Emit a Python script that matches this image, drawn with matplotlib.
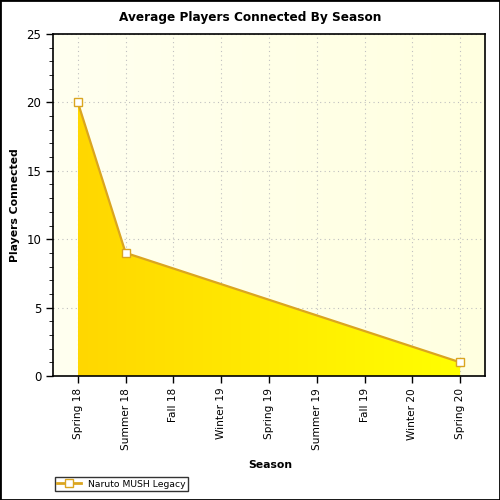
import numpy as np
import matplotlib
matplotlib.use("Agg")
import matplotlib.pyplot as plt
from matplotlib.colors import LinearSegmentedColormap
from matplotlib.patches import Rectangle
from matplotlib.lines import Line2D
from matplotlib.ticker import MultipleLocator

seasons = ["Spring 18", "Summer 18", "Fall 18", "Winter 19", "Spring 19",
           "Summer 19", "Fall 19", "Winter 20", "Spring 20"]
players = [20, 9, np.nan, np.nan, np.nan, np.nan, np.nan, np.nan, 1]
series_name = "Naruto MUSH Legacy"

fig = plt.figure(figsize=(5, 5), dpi=100)
fig.patch.set_facecolor("white")
fig.patches.append(Rectangle((0, 0), 1, 1, transform=fig.transFigure, fill=False,
                             edgecolor="black", linewidth=2))

ax = fig.add_axes([53/500, 1 - 376/500, (485-53)/500, (376-34)/500])
x = np.arange(len(seasons))
y = np.array(players, dtype=float)
mask = ~np.isnan(y)
xv, yv = x[mask], y[mask]

ax.set_xlim(-0.52, len(seasons) - 0.48)
ax.set_ylim(0, 25)

# background gradient
bg_cmap = LinearSegmentedColormap.from_list("bg", ["#fffff0", "#ffffe0"])
ax.imshow(np.linspace(0, 1, 256).reshape(1, -1), extent=[-0.52, len(seasons)-0.48, 0, 25],
          aspect="auto", cmap=bg_cmap, zorder=0)

ax.grid(True, linestyle=(0, (1, 3)), color="#c0c0c0", linewidth=0.8, zorder=1)

# area with gradient fill
poly = ax.fill_between(xv, yv, 0, facecolor="none", edgecolor="none", zorder=2)
area_cmap = LinearSegmentedColormap.from_list("area", ["#ffd700", "#ffff00"])
img = ax.imshow(np.linspace(0, 1, 256).reshape(1, -1), extent=[xv.min(), xv.max(), 0, 25],
                aspect="auto", cmap=area_cmap, zorder=2)
path = poly.get_paths()[0]
img.set_clip_path(path, transform=ax.transData)

ax.plot(xv, yv, color="#daa520", linewidth=1.6, zorder=3)
ax.plot(xv, yv, linestyle="none", marker="s", markersize=6, markerfacecolor="white",
        markeredgecolor="#daa520", markeredgewidth=1, zorder=4)

ax.set_xticks(x)
ax.set_xticklabels(seasons, rotation=90, fontsize=7.6)
ax.yaxis.set_major_locator(MultipleLocator(5))
ax.yaxis.set_minor_locator(MultipleLocator(1))
ax.tick_params(axis="both", direction="out", length=5, width=1)
ax.tick_params(axis="y", labelsize=8.5)
ax.tick_params(axis="y", which="minor", direction="out", length=3)
for s in ax.spines.values():
    s.set_linewidth(1.2)

fig.text(0.5, 1 - 17/500, "Average Players Connected By Season", fontsize=8.7,
         fontweight="bold", ha="center", va="center")
ax.set_xlabel("Season", fontsize=7.8, fontweight="bold")
ax.set_ylabel("Players Connected", fontsize=7.8, fontweight="bold")
ax.xaxis.set_label_coords(0.502, -0.26)
ax.yaxis.set_label_coords(-0.088, 0.5)
ax.xaxis.label.set_va("center")
ax.yaxis.label.set_va("center")

h1 = Line2D([], [], color="#daa520", linewidth=2, marker="s", markersize=6,
            markerfacecolor="white", markeredgecolor="#daa520")
leg = fig.legend([h1], [series_name], loc="lower left", bbox_to_anchor=(55/500, 9/500),
                 fontsize=6.7, frameon=True, fancybox=False, edgecolor="black",
                 borderpad=0.25, handlelength=2.5, borderaxespad=0)
leg.get_frame().set_linewidth(1)

fig.savefig("out.png", dpi=100)
